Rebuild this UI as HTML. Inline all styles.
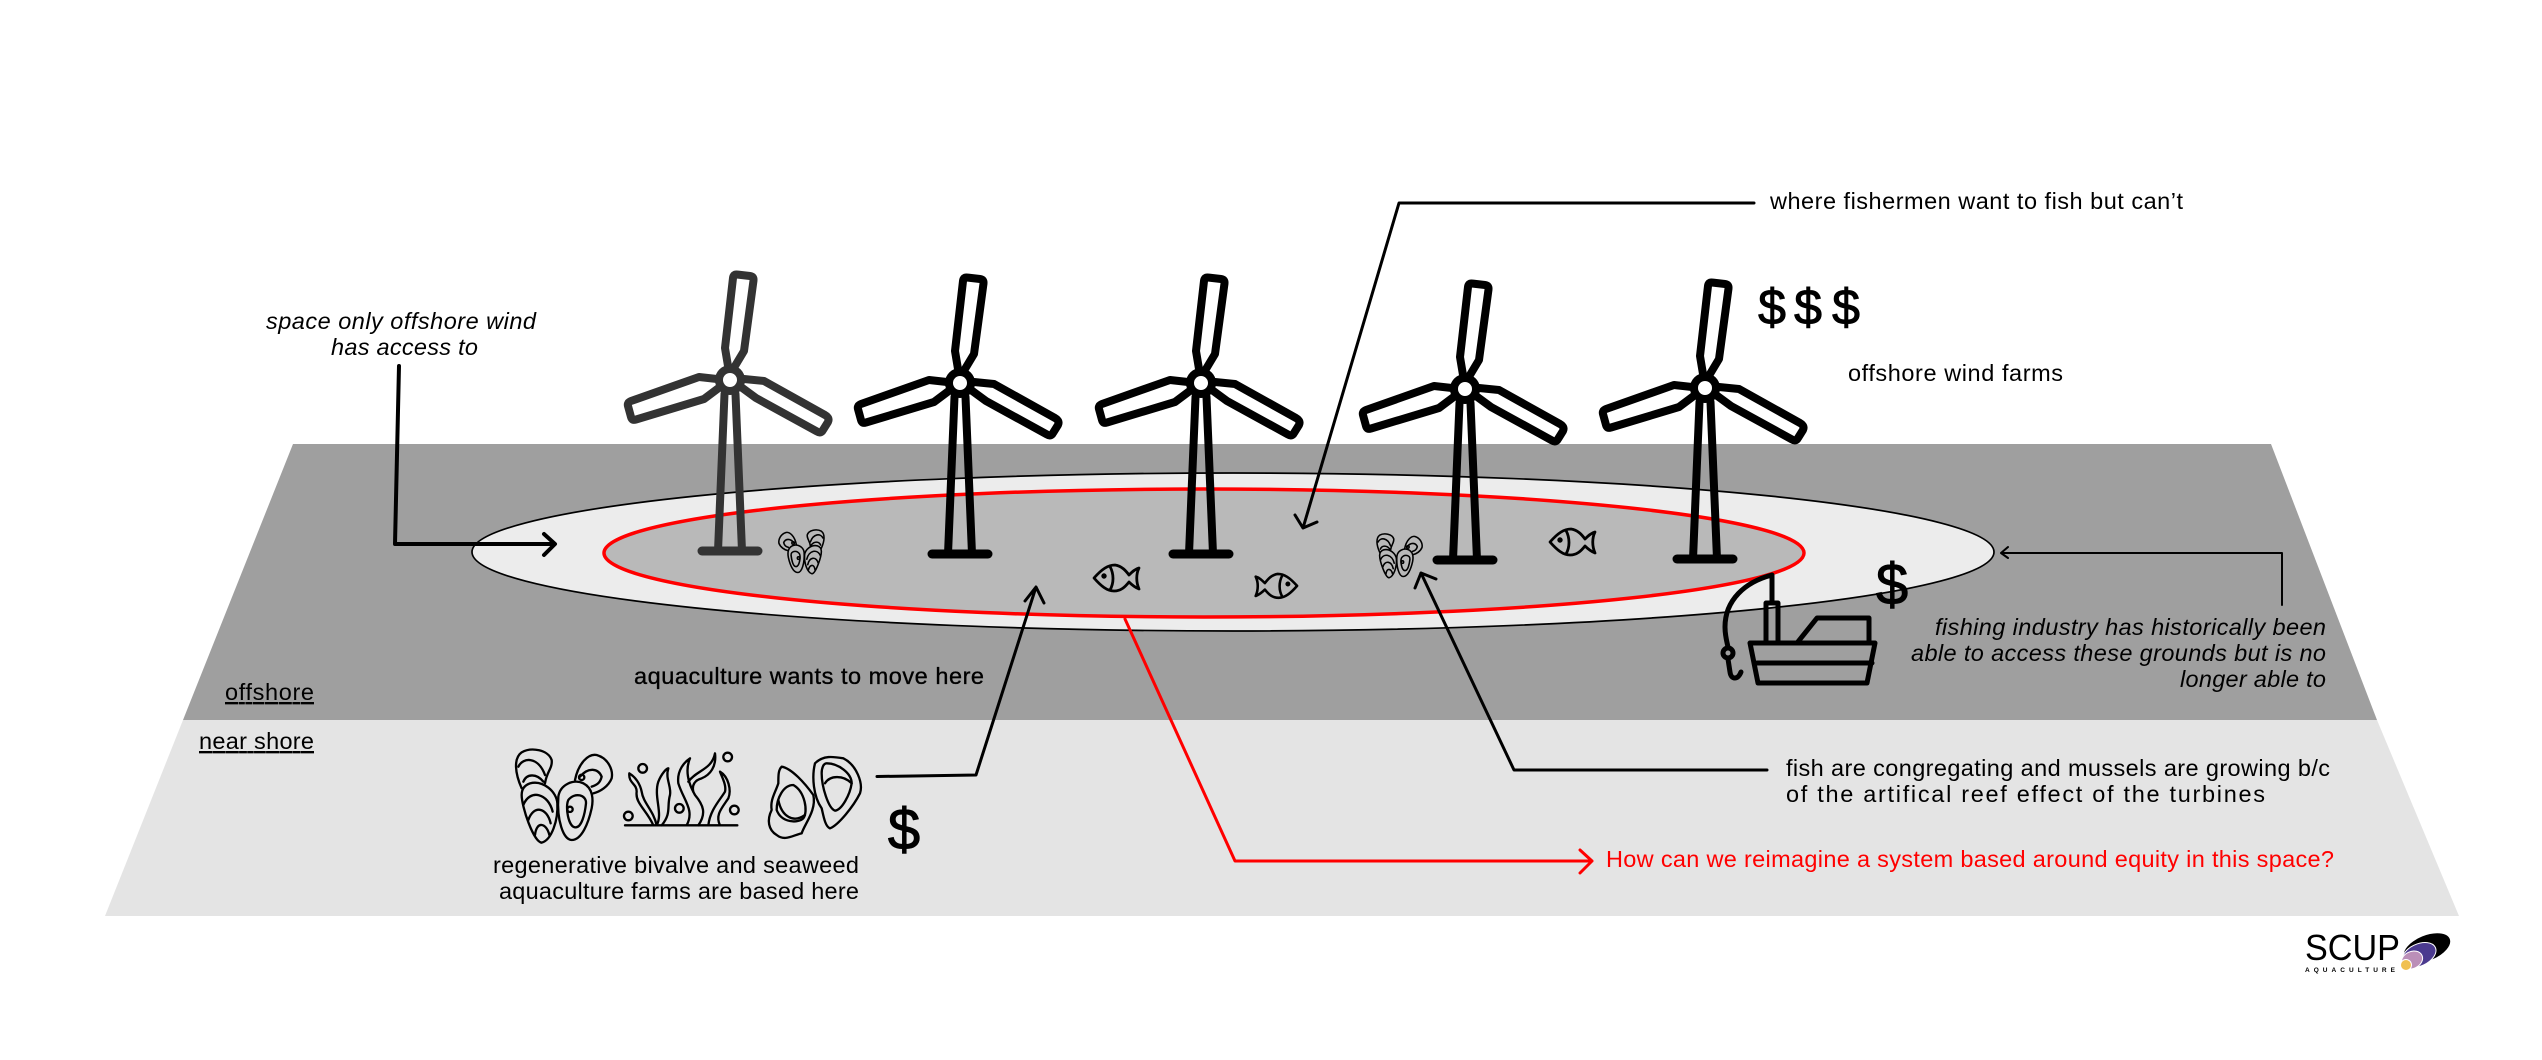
<!DOCTYPE html>
<html><head><meta charset="utf-8"><title>Offshore wind and aquaculture diagram</title>
<style>html,body{margin:0;padding:0;background:#fff}svg{display:block}
text{font-family:"Liberation Sans",sans-serif;font-size:23.5px;fill:#000}
.i{font-style:italic}.m{stroke:#000;stroke-width:.35px}
.l{fill:none;stroke:#000;stroke-width:3;stroke-linecap:round;stroke-linejoin:round}
.ic{fill:none;stroke:#000;stroke-width:7;stroke-linecap:round;stroke-linejoin:round}
.d{font-size:58px;stroke:#000;stroke-width:1}
</style></head><body>
<svg xmlns="http://www.w3.org/2000/svg" width="2542" height="1060" viewBox="0 0 2542 1060">
<defs>
<g id="turbine" fill="none" stroke-width="8" stroke-linejoin="round" stroke-linecap="round">
<path d="M-5.5,14L-12,171M5.500,14L12,171"/>
<path d="M-28,171H28" stroke-width="9"/>
<path d="M-2,-14L-5,-32L3,-102Q3.500,-106 7,-105.500L20,-104Q24,-103.500 23.500,-99.500L14,-29L5,-14"/>
<path d="M-13,-1L-31,-3L-99,21Q-103,22.500 -102,26L-99,37Q-98,41 -94,39.500L-26,19L-10,7"/>
<path d="M14,-1L34,1L95,35Q100,38 98,42L93,50Q91,54 87,51.500L26,18L11,7"/>
<circle r="11" fill="#fff"/>
</g>
<g id="fish" fill="none" stroke="#000" stroke-width="2.800" stroke-linejoin="round" stroke-linecap="round">
<path d="M1,14C9,5 15,1 22,1C29,2 33,7 36,11C39,8 42,5 46,4C43,10 43,18 46,25C41,23 38,20 36,18C32,23 28,27 21,27C14,27 8,22 1,14Z"/>
<path d="M17,2.500C21,10 21,19 17,26"/>
<circle cx="11" cy="12" r="1.300" fill="#000"/>
</g>
<g id="mussel">
<path d="M125,205C105,160 100,115 125,97C155,80 205,90 215,120C218,145 200,155 195,190"/>
<path d="M115,140C130,110 175,110 195,165M130,185C140,160 170,160 190,185"/>
<path d="M150,190C190,180 230,215 232,250C235,300 215,360 185,368C160,365 125,260 125,225C125,205 135,195 150,190Z"/>
<path d="M130,255C150,205 205,220 218,275M145,300C160,255 200,260 212,310M165,345C170,300 200,310 208,345"/>
<path d="M235,230C240,195 280,175 310,190C340,205 340,240 335,265C325,310 305,360 275,360C250,360 230,300 235,230Z"/>
<path d="M265,240C285,215 320,225 318,250C315,280 305,325 285,322C265,320 255,260 265,240Z"/>
<circle cx="270" cy="268" r="8"/>
<path d="M285,180C295,130 325,100 350,105C385,115 400,150 395,175C385,200 360,215 340,220"/>
<path d="M300,170C325,140 355,145 365,170C360,190 350,195 335,200"/>
<circle cx="305" cy="172" r="8"/>
</g>
</defs>

<polygon points="293,444 2271,444 2377,720 183,720" fill="#9f9f9f"/>
<polygon points="183,720 2377,720 2459,916 105,916" fill="#e4e4e4"/>
<ellipse cx="1233" cy="552" rx="761" ry="79" fill="#ececec" stroke="#000" stroke-width="1.700"/>
<ellipse cx="1204" cy="553" rx="600" ry="64" fill="#b9b9b9" stroke="#f00" stroke-width="3.500"/>

<use href="#turbine" transform="translate(730,380)" stroke="#333"/>
<use href="#turbine" transform="translate(960,383)" stroke="#000"/>
<use href="#turbine" transform="translate(1201,383)" stroke="#000"/>
<use href="#turbine" transform="translate(1465,389)" stroke="#000"/>
<use href="#turbine" transform="translate(1705,388)" stroke="#000"/>

<use href="#fish" transform="translate(1093,564)"/>
<use href="#fish" transform="translate(1298,573) scale(-.92,.92)"/>
<use href="#fish" transform="translate(1549,528)"/>
<g class="ic" style="stroke-width:10"><use href="#mussel" transform="translate(841,516) scale(-.157,.157)"/></g>
<g class="ic" style="stroke-width:10"><use href="#mussel" transform="translate(1360,520) scale(.157,.157)"/></g>

<g transform="translate(480,720) scale(.33333)" class="ic">
<use href="#mussel"/>
<path d="M435,316H772" stroke-width="7"/>
<path d="M520,316C500,270 465,250 470,215C470,190 445,190 448,160C465,170 480,190 485,215C490,250 520,270 530,316"/>
<path d="M530,316C550,280 520,230 535,185C545,160 560,145 565,145C555,175 575,200 570,225C560,260 575,280 545,316"/>
<path d="M620,316C645,270 610,240 595,190C590,150 615,125 630,115C615,150 625,190 645,225C670,255 680,280 655,316"/>
<path d="M625,185C650,150 695,150 705,100C710,140 690,165 665,175C645,180 635,195 640,215"/>
<path d="M685,316C690,270 720,240 735,215C740,195 725,170 720,155C745,170 755,210 745,235C725,265 705,285 720,316"/>
<circle cx="488" cy="145" r="13"/><circle cx="743" cy="111" r="13"/><circle cx="445" cy="288" r="13"/><circle cx="598" cy="265" r="13"/><circle cx="763" cy="270" r="13"/>
<path d="M905,140C935,145 975,190 1000,225C1010,270 975,310 965,340C940,345 915,365 890,345C865,330 860,300 875,270C870,240 885,220 895,190C895,165 895,150 905,140Z"/>
<path d="M940,195C975,215 985,275 970,295C955,310 905,310 890,270C890,235 910,195 940,195Z"/>
<path d="M895,240C905,290 940,310 975,285"/>
<path d="M1005,130C1030,105 1060,110 1090,115C1130,135 1150,190 1140,220C1120,260 1075,315 1050,325C1035,320 1030,285 1025,265C1000,230 995,170 1005,130Z"/>
<path d="M1040,130C1075,130 1115,160 1115,190C1110,225 1085,270 1065,272C1045,265 1025,200 1025,160C1025,145 1030,130 1040,130Z"/>
<path d="M1035,190C1050,165 1090,165 1115,190"/>
</g>

<!-- boat -->
<g fill="none" stroke="#000" stroke-width="5" stroke-linejoin="round" stroke-linecap="round">
<path d="M1750,643H1875L1867,683H1758Z"/>
<path d="M1757,663H1872"/>
<path d="M1797,643L1817,618H1869V643"/>
<path d="M1766,643V603H1778V643"/>
<path d="M1772,603V575C1745,582 1725,600 1725,627C1725,636 1727,642 1728,647"/>
<circle cx="1728" cy="653" r="5"/>
<path d="M1728,659L1730,672C1731,680 1738,680 1741,672"/>
</g>

<!-- arrows -->
<path class="l" style="stroke-width:4" d="M399,366L395,544H554M544,534L555,544L544,555"/>
<path class="l" d="M1754,203H1399L1303,528M1295,515L1303,528L1317,522"/>
<path class="l" d="M877,776.500L976,775L1036,587M1025,601L1036,587L1044,603"/>
<path class="l" d="M1767,770H1514L1421,573M1415,588L1421,573L1436,579"/>
<path class="l" style="stroke:#f00" d="M1125,619L1235,861H1592M1580,850L1592,861L1580,873"/>
<path class="l" style="stroke-width:2" d="M2282,605V553H2001M2008,547L2001,553L2008,558"/>

<!-- dollar signs -->
<text class="d" style="font-size:50px" x="1772" y="324" text-anchor="middle">$</text>
<text class="d" style="font-size:50px" x="1808" y="324" text-anchor="middle">$</text>
<text class="d" style="font-size:50px" x="1846" y="324" text-anchor="middle">$</text>
<text class="d" x="904" y="849" text-anchor="middle">$</text>
<text class="d" x="1892" y="604" text-anchor="middle">$</text>

<!-- labels -->
<text class="i" x="266" y="329" textLength="270" lengthAdjust="spacing">space only offshore wind</text>
<text class="i" x="331" y="355" textLength="147" lengthAdjust="spacing">has access to</text>
<text x="1770" y="209" textLength="413" lengthAdjust="spacing">where fishermen want to fish but can’t</text>
<text x="1848" y="381" textLength="215" lengthAdjust="spacing">offshore wind farms</text>
<text class="m" x="634" y="684" textLength="350" lengthAdjust="spacing">aquaculture wants to move here</text>
<text x="225" y="700" textLength="89" lengthAdjust="spacing" text-decoration="underline">offshore</text>
<text x="199" y="749" textLength="115" lengthAdjust="spacing" text-decoration="underline">near shore</text>
<text x="493" y="873" textLength="366" lengthAdjust="spacing">regenerative bivalve and seaweed</text>
<text x="499" y="899" textLength="360" lengthAdjust="spacing">aquaculture farms are based here</text>
<text class="i" x="1935" y="635" textLength="391" lengthAdjust="spacing">fishing industry has historically been</text>
<text class="i" x="1911" y="661" textLength="415" lengthAdjust="spacing">able to access these grounds but is no</text>
<text class="i" x="2180" y="687" textLength="146" lengthAdjust="spacing">longer able to</text>
<text x="1786" y="776" textLength="544" lengthAdjust="spacing">fish are congregating and mussels are growing b/c</text>
<text x="1786" y="802" textLength="479" lengthAdjust="spacing">of the artifical reef effect of the turbines</text>
<text x="1606" y="867" textLength="728" lengthAdjust="spacing" style="fill:#f00">How can we reimagine a system based around equity in this space?</text>

<!-- logo -->
<text x="2305" y="960" textLength="95" lengthAdjust="spacingAndGlyphs" style="font-size:36px">SCUP</text>
<text x="2305" y="972" textLength="90" lengthAdjust="spacing" style="font-size:6.500px;font-weight:bold">AQUACULTURE</text>
<g stroke="#fff" stroke-width="1">
<ellipse cx="2427" cy="948" rx="25" ry="13" transform="rotate(-22 2427 948)" fill="#000"/>
<ellipse cx="2419" cy="955" rx="18" ry="11" transform="rotate(-25 2419 955)" fill="#4b3a8f"/>
<ellipse cx="2412" cy="960" rx="11" ry="8.500" transform="rotate(-25 2412 960)" fill="#bb8fb8"/>
<circle cx="2406" cy="965" r="5.500" fill="#f0c050"/>
</g>
</svg>
</body></html>
